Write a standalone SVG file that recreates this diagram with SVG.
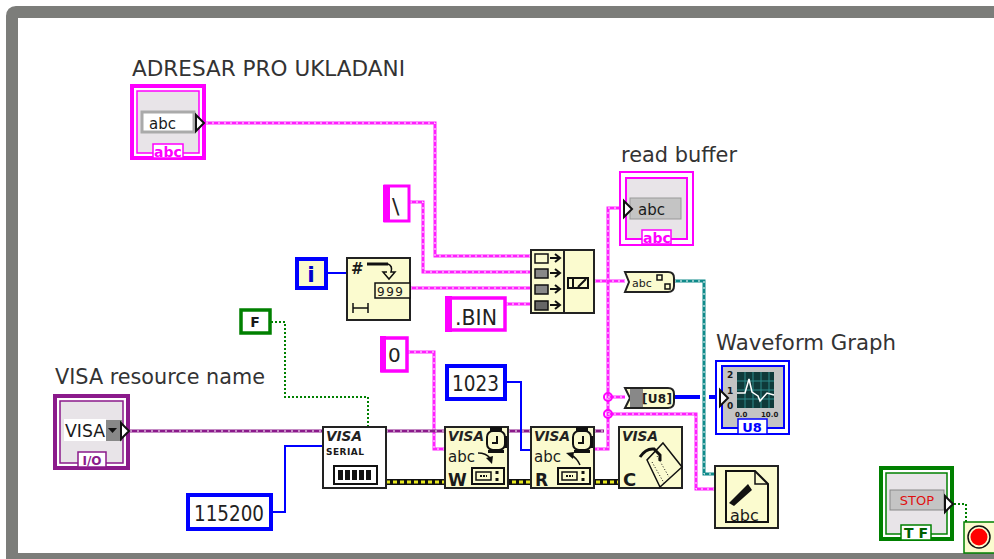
<svg xmlns="http://www.w3.org/2000/svg" width="994" height="559" viewBox="0 0 994 559">
<defs>
<style>
text{font-family:"DejaVu Sans","Liberation Sans",sans-serif;fill:#1a1a1a}
.lbl{font-size:21px;fill:#333}
.s1{stroke:#ff20ff;stroke-width:3;fill:none}
.s2{stroke:#fff;stroke-width:1;stroke-dasharray:2 4;fill:none}
.f{fill:#fbfbcf;stroke:#222;stroke-width:2}
.fw{fill:#fff;stroke:#222;stroke-width:2}
.num{font-size:24px;fill:#222}
.tag{font-size:14px;font-weight:bold;text-anchor:middle}
.vi{font-size:14px;font-style:italic;font-weight:bold;fill:#222}
.in{fill:#e8e4e8}
</style>
<path id="tri" d="M0,-8 L8,0 L0,8 Z" fill="#fff" stroke="#111" stroke-width="2"/>
<g id="clock"><rect x="-6" y="-13" width="12" height="6" fill="#111"/><rect x="-8" y="10" width="16" height="3" fill="#111"/><rect x="7" y="-4" width="4" height="12" fill="#111"/><rect x="-9" y="-9" width="18" height="19" rx="6" fill="#fbfbcf" stroke="#111" stroke-width="2"/><path d="M1,-4V3H-4" fill="none" stroke="#111" stroke-width="2"/></g>
<g id="errbox"><rect x="0" y="0" width="32" height="16" fill="#fbfbcf" stroke="#111" stroke-width="2"/><rect x="4" y="4" width="15" height="8" fill="none" stroke="#111" stroke-width="1.5"/><path d="M8,8h7" stroke="#111" stroke-width="2" stroke-dasharray="2 1"/><path d="M25,3v3M25,10v3" stroke="#111" stroke-width="3"/></g>
</defs>
<rect width="994" height="559" fill="#fff"/>
<path d="M994,12H16Q12,12 12,16V559H994" fill="none" stroke="#7c7d7a" stroke-width="12"/>

<g id="connectors">
<path class="s1" d="M206,123H435V256H530"/><path class="s2" d="M206,123H435V256H530"/>
<path class="s1" d="M410,202H423V272H530"/><path class="s2" d="M410,202H423V272H530"/>
<path class="s1" d="M410,288H530"/><path class="s2" d="M410,288H530"/>
<path class="s1" d="M506,304H530"/><path class="s2" d="M506,304H530"/>
<path class="s1" d="M408,352H434V449H445"/><path class="s2" d="M408,352H434V449H445"/>
<path class="s1" d="M594,281H625"/><path class="s2" d="M594,281H625"/>
<path class="s1" d="M622,208H608V449H594"/><path class="s2" d="M622,208H608V449H594"/>
<path class="s1" d="M608,397H625"/><path class="s2" d="M608,397H625"/>
<path class="s1" d="M608,414H696V489H715"/><path class="s2" d="M608,414H696V489H715"/>
<circle cx="608" cy="397" r="4" fill="none" stroke="#ff00ff" stroke-width="2"/>
<circle cx="608" cy="414" r="4" fill="none" stroke="#ff00ff" stroke-width="2"/>
<path d="M674,281H704V474H715" fill="none" stroke="#0f8a8a" stroke-width="3"/>
<path d="M674,281H704V474H715" fill="none" stroke="#fff" stroke-width="1" stroke-dasharray="2 4"/>
<path d="M674,397H700M709,397H718" fill="none" stroke="#0000ff" stroke-width="4"/>
<path d="M130,431H323M386,431H445M508,431H531M594,431H604" fill="none" stroke="#8b1a8b" stroke-width="3"/>
<path d="M130,431H323M386,431H445M508,431H531M594,431H604" fill="none" stroke="#fff" stroke-width="1" stroke-dasharray="2 5"/>
<path d="M386,482H619" fill="none" stroke="#111" stroke-width="6"/>
<path d="M386,482H619" fill="none" stroke="#e8e820" stroke-width="3" stroke-dasharray="4 3"/>
<path d="M327,273H347M506,382H521V450H531M272,512H285V446H323" fill="none" stroke="#0000ff" stroke-width="2"/>
<path d="M271,322H285V397H368V426M954,504H966V522" fill="none" stroke="#008000" stroke-width="2" stroke-dasharray="2 2"/>
</g>

<g id="adresar">
<text class="lbl" x="132" y="76" textLength="273" lengthAdjust="spacingAndGlyphs">ADRESAR PRO UKLADANI</text>
<rect x="132" y="86" width="72" height="72" fill="#fff" stroke="#ff00ff" stroke-width="4"/>
<rect x="137" y="91" width="62" height="62" class="in" stroke="#ff00ff" stroke-width="1.5"/>
<rect x="142" y="112" width="52" height="20" fill="#fff" stroke="#aaa" stroke-width="3"/>
<text x="149" y="129" font-size="15">abc</text>
<use href="#tri" x="196" y="123"/>
<rect x="153" y="144" width="30" height="14" fill="#fff" stroke="#ff00ff" stroke-width="1.5"/>
<text class="tag" x="168" y="157" style="fill:#ff00ff">abc</text>
</g>

<g id="backslash">
<rect x="385" y="186" width="24" height="35" fill="#fff" stroke="#ff00ff" stroke-width="3"/>
<rect x="383" y="185" width="7" height="37" fill="#ff00ff"/>
<text class="num" x="392" y="214" style="font-size:22px">\</text>
</g>

<g id="iterator">
<rect x="297" y="259" width="29" height="29" fill="#fbfbcf" stroke="#0000ff" stroke-width="4"/>
<text x="311" y="282" font-size="22" font-weight="bold" text-anchor="middle" style="fill:#0000cc">i</text>
</g>

<g id="numtostring">
<rect class="f" x="347" y="258" width="63" height="62"/>
<text x="351" y="274" font-size="15" font-weight="bold">#</text>
<path d="M367,264H388" fill="none" stroke="#111" stroke-width="3"/>
<path d="M388,264q5,2 3,8h4l-6,7-6,-7h4" fill="none" stroke="#111" stroke-width="1.5"/>
<rect x="375" y="283" width="35" height="15" fill="#fbfbcf" stroke="#111" stroke-width="1.5"/>
<text x="377" y="296" font-size="12" letter-spacing="1.5">999</text>
<path d="M353,303v10M368,303v10M353,308H368" fill="none" stroke="#111" stroke-width="1.5"/>
</g>

<g id="concat">
<rect class="f" x="531" y="250" width="63" height="63"/>
<path d="M564,250V313" stroke="#222" stroke-width="2"/>
<rect x="535" y="254" width="13" height="9" fill="#fbfbcf" stroke="#111" stroke-width="1.5"/>
<rect x="535" y="269" width="13" height="9" fill="#888" stroke="#111" stroke-width="1.5"/>
<rect x="535" y="285" width="13" height="9" fill="#888" stroke="#111" stroke-width="1.5"/>
<rect x="535" y="301" width="13" height="9" fill="#666" stroke="#111" stroke-width="1.5"/>
<path d="M550,258H559M555,254l5,4-5,4M550,273H559M555,269l5,4-5,4M550,289H559M555,285l5,4-5,4M550,305H559M555,301l5,4-5,4" fill="none" stroke="#111" stroke-width="2"/>
<rect x="568" y="278" width="20" height="10" fill="#fbfbcf" stroke="#111" stroke-width="2"/>
<path d="M573,278v10M578,287l8,-8" stroke="#111" stroke-width="2"/>
</g>

<g id="bin">
<rect x="447" y="298" width="58" height="32" fill="#fff" stroke="#ff00ff" stroke-width="3.5"/>
<rect x="445" y="296" width="7" height="36" fill="#ff00ff"/>
<text class="num" x="455" y="325" style="font-size:22px" textLength="42" lengthAdjust="spacingAndGlyphs">.BIN</text>
</g>

<g id="readbuffer">
<text class="lbl" x="621" y="162" textLength="116" lengthAdjust="spacingAndGlyphs">read buffer</text>
<rect x="620" y="172" width="73" height="73" fill="#fff" stroke="#ff00ff" stroke-width="2"/>
<rect x="626" y="178" width="61" height="61" class="in" stroke="#ff00ff" stroke-width="2"/>
<rect x="630" y="198" width="51" height="21" fill="#c4c4c4" stroke="#999" stroke-width="1"/>
<text x="638" y="215" font-size="15">abc</text>
<use href="#tri" x="624" y="209"/>
<rect x="642" y="230" width="29" height="14" fill="#fff" stroke="#ff00ff" stroke-width="1.5"/>
<text class="tag" x="657" y="243" style="fill:#ff00ff">abc</text>
</g>

<g id="strtobyte">
<path d="M625,272H668Q674,272 674,278V286Q674,292 668,292H625L629,282Z" class="f"/>
<text x="632" y="287" font-size="11">abc</text>
<rect x="657" y="275" width="5" height="5" fill="#fbfbcf" stroke="#111" stroke-width="1.5"/>
<rect x="665" y="284" width="5" height="5" fill="#fbfbcf" stroke="#111" stroke-width="1.5"/>
</g>

<g id="bytearray">
<path d="M625,388H668Q674,388 674,394V402Q674,408 668,408H625L630,398Z" class="f"/>
<rect x="630" y="389" width="13" height="18" fill="#888"/>
<text x="642" y="403" font-size="12" font-weight="bold" textLength="30">[U8]</text>
</g>

<g id="false">
<rect x="241" y="310" width="29" height="23" fill="#fff" stroke="#008000" stroke-width="3.5"/>
<text x="255" y="327" font-size="14" font-weight="bold" text-anchor="middle">F</text>
</g>

<g id="zero">
<rect x="382" y="338" width="25" height="33" fill="#fff" stroke="#ff00ff" stroke-width="3.5"/>
<rect x="380" y="336" width="6" height="36" fill="#ff00ff"/>
<text class="num" x="388" y="362" style="font-size:20px">0</text>
</g>

<g id="n1023">
<rect x="447" y="366" width="58" height="33" fill="#fff" stroke="#0000ff" stroke-width="4"/>
<text class="num" x="452" y="391" textLength="47" lengthAdjust="spacingAndGlyphs" style="font-size:21px">1023</text>
</g>

<g id="n115200">
<rect x="188" y="495" width="83" height="34" fill="#fff" stroke="#0000ff" stroke-width="4"/>
<text class="num" x="194" y="521" textLength="70" lengthAdjust="spacingAndGlyphs" style="font-size:21px">115200</text>
</g>

<g id="visaresource">
<text class="lbl" x="55" y="384" textLength="210" lengthAdjust="spacingAndGlyphs">VISA resource name</text>
<rect x="55" y="396" width="73" height="72" fill="#fff" stroke="#8b1a8b" stroke-width="4"/>
<rect x="60" y="401" width="63" height="62" class="in" stroke="#8b1a8b" stroke-width="1.5"/>
<rect x="64" y="419" width="42" height="22" fill="#fff"/>
<rect x="106" y="420" width="16" height="21" fill="#888"/>
<text x="65" y="437" font-size="18" textLength="40" lengthAdjust="spacingAndGlyphs">VISA</text>
<path d="M108,428h9l-4.500,5Z" fill="#111"/>
<use href="#tri" x="121" y="431"/>
<rect x="78" y="452" width="28" height="15" fill="#fff" stroke="#8b1a8b" stroke-width="1.5"/>
<text class="tag" x="92" y="465" style="fill:#8b1a8b;font-size:12px">I/O</text>
</g>

<g id="visaserial">
<rect class="fw" x="323" y="427" width="63" height="61"/>
<text class="vi" x="326" y="441" textLength="36" lengthAdjust="spacingAndGlyphs">VISA</text>
<text x="326" y="455" font-size="9" font-weight="bold" textLength="38">SERIAL</text>
<rect x="334" y="466" width="43" height="18" fill="#fff" stroke="#111" stroke-width="2"/>
<path d="M338,470h5v10h-5zM345,470h5v10h-5zM352,470h5v10h-5zM359,470h5v10h-5zM366,470h5v10h-5z" fill="#111"/>
</g>

<g id="visawrite">
<rect class="f" x="445" y="427" width="63" height="61"/>
<text class="vi" x="448" y="441" textLength="36" lengthAdjust="spacingAndGlyphs">VISA</text>
<use href="#clock" x="496" y="440"/>
<text x="448" y="462" font-size="15">abc</text>
<path d="M478,453q8,0 12,5" fill="none" stroke="#111" stroke-width="1.500"/>
<path d="M486,458l7,-2-1,8Z" fill="#111"/>
<text x="448" y="486" font-size="17" font-weight="900">W</text>
<use href="#errbox" x="472" y="468"/>
</g>

<g id="visaread">
<rect class="f" x="531" y="427" width="63" height="61"/>
<text class="vi" x="534" y="441" textLength="36" lengthAdjust="spacingAndGlyphs">VISA</text>
<use href="#clock" x="582" y="440"/>
<text x="534" y="462" font-size="15">abc</text>
<path d="M580,465q-3,-7 -9,-10" fill="none" stroke="#111" stroke-width="1.500"/>
<path d="M566,453l8,-1-1,7Z" fill="#111"/>
<text x="535" y="486" font-size="17" font-weight="900">R</text>
<use href="#errbox" x="558" y="468"/>
</g>

<g id="visaclose">
<rect class="f" x="619" y="427" width="63" height="61"/>
<text class="vi" x="622" y="441" textLength="36" lengthAdjust="spacingAndGlyphs">VISA</text>
<text x="623" y="486" font-size="18" font-weight="900">C</text>
<path d="M663,443L682,467 660,487 647,460Z" fill="#fbfbcf" stroke="#111" stroke-width="1.500"/>
<path d="M652,462L664,483M657,456L669,477" fill="none" stroke="#111" stroke-width="1" stroke-dasharray="1 2"/>
<path d="M640,457q6,-9 14,-8l6,6v6" fill="none" stroke="#111" stroke-width="3"/>
</g>

<g id="graph">
<text class="lbl" x="716" y="350" textLength="180" lengthAdjust="spacingAndGlyphs">Waveform Graph</text>
<rect x="716" y="361" width="73" height="73" fill="#fff" stroke="#0000ff" stroke-width="2"/>
<rect x="722" y="366" width="62" height="62" fill="#c4c4c4" stroke="#0000ff" stroke-width="2"/>
<rect x="737" y="372" width="37" height="36" fill="#0f3a3a"/>
<path d="M737,381H774M737,390H774M737,399H774M745,372V408M753,372V408M761,372V408M769,372V408" stroke="#2c8a8a" stroke-width="1"/>
<path d="M737,393H745L749,379 752,392 758,396 760,401 767,393 774,395" fill="none" stroke="#fff" stroke-width="1.500"/>
<text x="727" y="378" font-size="9" font-weight="bold">2</text>
<text x="727" y="394" font-size="9" font-weight="bold">1</text>
<text x="727" y="409" font-size="9" font-weight="bold">0</text>
<text x="735" y="417" font-size="7" font-weight="bold">0.0</text>
<text x="761" y="417" font-size="7" font-weight="bold">10.0</text>
<use href="#tri" x="720" y="398"/>
<rect x="738" y="419" width="29" height="15" fill="#fff" stroke="#0000ff" stroke-width="1.500"/>
<text class="tag" x="752" y="432" style="fill:#0000ff;font-size:13px">U8</text>
</g>

<g id="writefile">
<rect class="f" x="715" y="466" width="63" height="62"/>
<path d="M726,471H755L768,484V522H726Z" fill="#fbfbcf" stroke="#111" stroke-width="2"/>
<path d="M755,471V484H768" fill="none" stroke="#111" stroke-width="1.500"/>
<path d="M729,503L748,484 752,490 734,506Z" fill="#111"/>
<text x="730" y="521" font-size="16">abc</text>
</g>

<g id="stop">
<rect x="881" y="468" width="71" height="71" fill="#fff" stroke="#008000" stroke-width="4"/>
<rect x="886" y="473" width="61" height="61" class="in" stroke="#008000" stroke-width="1.500"/>
<rect x="890" y="490" width="54" height="20" fill="#c4c4c4" stroke="#888"/>
<text x="917" y="505" font-size="13" text-anchor="middle" style="fill:#e01010">STOP</text>
<use href="#tri" x="945" y="504"/>
<rect x="901" y="525" width="30" height="15" fill="#fff" stroke="#008000" stroke-width="1.500"/>
<text class="tag" x="916" y="538" style="fill:#006000">T F</text>
</g>

<g id="stopterm">
<rect x="964" y="522" width="31" height="31" fill="#fbfbcf" stroke="#008000" stroke-width="1.500"/>
<circle cx="979" cy="537" r="11" fill="#fbfbcf" stroke="#111" stroke-width="1.500"/>
<circle cx="979" cy="537" r="8.500" fill="#ff0000"/>
</g>
</svg>
